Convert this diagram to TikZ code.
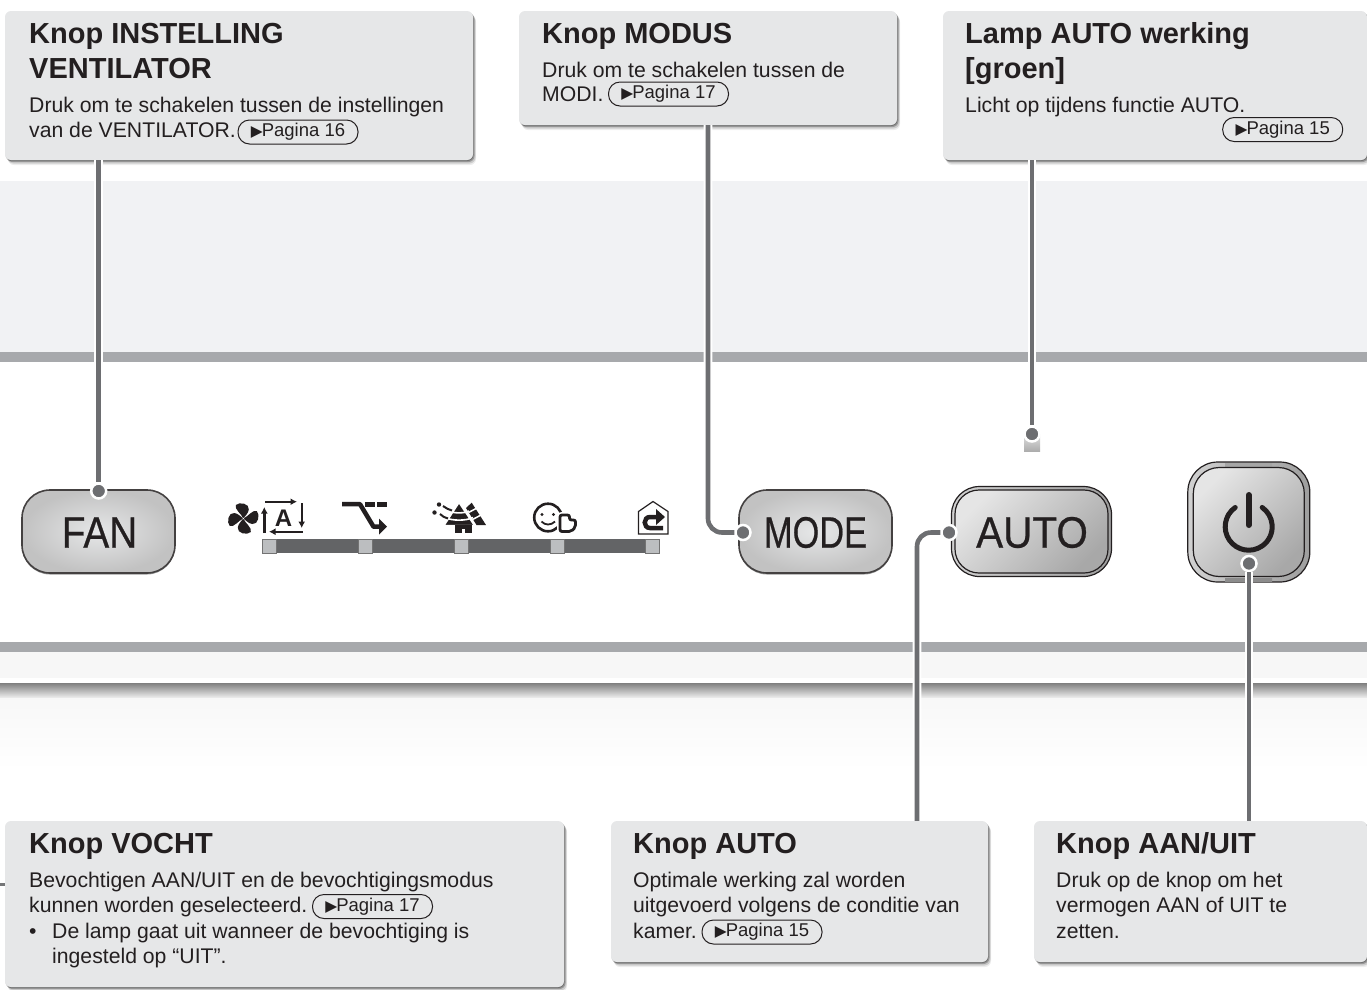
\documentclass[tikz,border=0pt]{standalone}
\usepackage{graphicx}
\usepackage{fontspec}
\setmainfont{Liberation Sans}
\newfontfamily\symf{DejaVu Sans}
\newfontfamily\btnf[FakeBold=0.6]{Liberation Sans}
\usetikzlibrary{shadows,calc,arrows.meta}
\definecolor{boxfill}{HTML}{E6E7E8}
\definecolor{conn}{HTML}{6D6E71}
\definecolor{band}{HTML}{A7A9AC}
\definecolor{ink}{HTML}{231F20}
\definecolor{barc}{HTML}{636466}
\definecolor{sq}{HTML}{BCBEC0}
\definecolor{panel}{HTML}{F1F2F4}
\tikzset{
  x=1pt,y=-1pt,
  softshadow/.style={
    drop shadow={shadow xshift=3pt,shadow yshift=-5pt,opacity=.07,fill=black},
    drop shadow={shadow xshift=2.5pt,shadow yshift=-3.5pt,opacity=.14,fill=black},
    drop shadow={shadow xshift=1.5pt,shadow yshift=-2pt,opacity=.25,fill=black},
    drop shadow={shadow xshift=.5pt,shadow yshift=-1pt,opacity=.25,fill=black}},
  callout/.style={fill=boxfill,rounded corners=6pt,inner sep=0pt,softshadow},
  titletext/.style={anchor=base west,inner sep=0pt,text=ink,font=\fontsize{29}{33}\selectfont\bfseries},
  bodytext/.style={anchor=base west,inner sep=0pt,text=ink,font=\fontsize{21.2}{25}\selectfont},
  pill/.style={draw=ink,line width=1pt,rounded corners=11.5pt,inner sep=0pt,minimum width=120pt,minimum height=24pt,text=ink,font=\fontsize{18.5}{20}\selectfont},
  wire/.style={draw=white,line width=2pt,double=conn,double distance=4.6pt,rounded corners=14pt},
  dotn/.style={circle,fill=conn,draw=white,line width=2.5pt,inner sep=0pt,minimum size=15pt},
  btnlabel/.style={inner sep=0pt,text=ink,font=\fontsize{44}{46}\btnf},
  plainbtn/.style={rounded corners=28pt,draw=ink!85,line width=1.6pt,inner color=boxfill,outer color=black!24,inner sep=0pt,
     drop shadow={shadow xshift=0pt,shadow yshift=-1.5pt,opacity=.4,fill=black}},
  ringouter/.style={rounded corners=30pt,draw=ink,line width=1.2pt,inner sep=0pt,left color=black!18,right color=black!38},
  ringinner/.style={rounded corners=26pt,draw=ink,line width=1.2pt,inner sep=0pt,left color=black!10,right color=black!34,shading angle=45},
  barsq/.style={fill=sq,draw=black!55,line width=.6pt,inner sep=0pt,minimum width=14pt,minimum height=14pt},
  iconl/.style={draw=ink,line width=2.4pt,-{Latex[length=6.5pt,width=7pt]}},
}
\newcommand{\pref}[1]{{\symf\fontsize{15.5}{12}\selectfont ▶}\kern-1pt #1}
\begin{document}
\begin{tikzpicture}
\useasboundingbox (0,0) rectangle (1367,989);
% background bands
\fill[panel] (0,181) rectangle (1367,352);
\fill[band] (0,352) rectangle (1367,362);
\fill[band] (0,642) rectangle (1367,652);
\fill[black!3] (0,652) rectangle (1367,678);
\fill[top color=black!50,bottom color=black!6] (0,683) rectangle (1367,698);
\fill[top color=black!3,bottom color=white] (0,698) rectangle (1367,770);
\fill[band!70!black] (0,883) rectangle (6,886);
% indicator bar
\fill[barc] (262,539) rectangle (660,553);
\node[barsq] (s1) at (269,546) {};
\node[barsq] (s2) at (365,546) {};
\node[barsq] (s3) at (461,546) {};
\node[barsq] (s4) at (557,546) {};
\node[barsq] (s5) at (652.5,546) {};
% icon 1: fan
\begin{scope}[shift={(243.3,518.5)}]
 \foreach \a in {0,90,180,270}{
  \fill[ink,rotate=\a] (0,0) .. controls (-2,-5) and (-9,-9) .. (-7.5,-13.5) .. controls (-4,-17) and (6.5,-15) .. (5.5,-9) .. controls (5,-5) and (2,-3) .. (0,0);
 }
 \fill[white] (0,0) circle[radius=.8pt];
\end{scope}
% icon 1: auto box
\draw[iconl] (265,501.7) -- (297,501.7);
\draw[iconl] (301.7,503) -- (301.7,528);
\draw[iconl] (302.5,531.7) -- (269,531.7);
\draw[iconl] (264.3,533) -- (264.3,507);
\node[inner sep=0pt,text=ink,font=\fontsize{24}{24}\selectfont\bfseries] (iconA) at (283.5,518) {A};
% icon 2: swing
\draw[ink,line width=4.5pt,line join=round] (342,504.2) -- (360,504.2) -- (373.5,526.7) -- (382,526.7);
\fill[ink] (379,518.5) -- (387,526.7) -- (379,534.5) -- cycle;
\fill[ink] (365,501.5) rectangle (375,507);
\fill[ink] (377,501.5) rectangle (387,507);
% icon 3: trees
\fill[ink] (471.7,502.7) -- (486,525) -- (476.5,525) -- (466,508) -- cycle;
\draw[white,line width=1.5pt] (468.5,512.5) -- (477,508);
\draw[white,line width=1.5pt] (472.5,519.5) -- (481,515);
\fill[ink,draw=white,line width=1.5pt,line join=round] (459,502.5) -- (474.5,525.5) -- (444,525.5) -- cycle;
\draw[white,line width=1.6pt] (449,511) .. controls (454,513.5) and (464,513.5) .. (469,511);
\draw[white,line width=1.6pt] (445,517.5) .. controls (452,521) and (466,521) .. (473,517.5);
\fill[ink] (454.5,525) rectangle (471.5,533);
\fill[white] (461.5,528.5) rectangle (465,533);
\fill[ink] (439,504.5) circle[radius=2.2pt];
\fill[ink] (434.5,512.5) circle[radius=2.2pt];
\draw[ink,line width=2pt] (443,506) .. controls (446,508) and (449,510) .. (452,510.5);
\draw[ink,line width=2pt] (440,514) .. controls (442,516) and (445,518) .. (448,518.5);
% icon 4: smile + hand
\draw[ink,line width=2.6pt] (548,517.5) circle[radius=13.8pt];
\fill[ink] (542,514.5) circle[radius=1.7pt] (553.5,514.5) circle[radius=1.7pt];
\draw[ink,line width=1.8pt] (541.5,521.5) .. controls (545,525.5) and (551,525.5) .. (555,521.5);
\draw[white,line width=6pt,fill=white,rounded corners=2pt] (560,531.5) -- (560,515) -- (569.5,515) -- (569.5,520) -- (575.5,520) -- (575.5,527) -- (571,531.5) -- cycle;
\draw[ink,line width=2.8pt,fill=white,rounded corners=2pt] (560,531.5) -- (560,515) -- (569.5,515) -- (569.5,520) -- (575.5,520) -- (575.5,527) -- (571,531.5) -- cycle;
% icon 5: house
\draw[ink,line width=1.2pt,fill=white] (638.5,511.5) -- (653,501.5) -- (668,511.5) -- (668,534) -- (638.5,534) -- cycle;
\draw[ink,line width=4.5pt] (660,517) -- (650,517) .. controls (643,517) and (643,528) .. (650,528) -- (663,528);
\fill[ink] (656,509) -- (665,517) -- (656,525) -- cycle;
% lamp
\fill[top color=black!12,bottom color=black!32] (1024,434) rectangle (1040,451);
% buttons
\node[plainbtn,minimum width=153pt,minimum height=83pt] (fan) at (98.5,531.5) {};
\node[btnlabel] (fant) at (99.5,532.5) {\scalebox{.88}[1]{FAN}};
\node[plainbtn,minimum width=153pt,minimum height=83pt] (mode) at (815.5,531.5) {};
\node[btnlabel] (modet) at (815.5,532.5) {\scalebox{.78}[1]{MODE}};
\node[ringouter,rounded corners=28pt,minimum width=160pt,minimum height=90pt] (autoo) at (1031.5,531.5) {};
\node[ringinner,rounded corners=24pt,minimum width=153pt,minimum height=83pt] (autoi) at (1031.5,531.5) {};
\node[btnlabel] (autot) at (1032,532.5) {\scalebox{.92}[1]{AUTO}};
\node[ringouter,minimum width=122pt,minimum height=120pt] (pwro) at (1248.8,522) {};
\fill[left color=black!35,middle color=white,right color=black!35] (1225,463) rectangle (1272,466);
\fill[left color=black!45,middle color=black!10,right color=black!45] (1225,578) rectangle (1272,581);
\node[ringinner,minimum width=111pt,minimum height=109pt] (pwri) at (1248.8,522) {};
\draw[ink,line width=5pt,line cap=round] (1248.7,526.7) ++(125:23.5pt) arc[start angle=125,end angle=415,radius=23.5pt];
\draw[ink,line width=6pt,line cap=round] (1248.7,495) -- (1248.7,525);
% callouts
\node[callout,minimum width=468pt,minimum height=149pt] (c1) at (239,85.5) {};
\node[callout,minimum width=378pt,minimum height=114pt] (c2) at (708,68) {};
\node[callout,minimum width=424pt,minimum height=149pt] (c3) at (1155,85.5) {};
\node[callout,minimum width=559pt,minimum height=166pt] (c4) at (284.5,904) {};
\node[callout,minimum width=377pt,minimum height=141pt] (c5) at (799.5,891.5) {};
\node[callout,minimum width=333pt,minimum height=141pt] (c6) at (1200.5,891.5) {};
% connectors
\coordinate (k2) at (708,532.5);
\coordinate (k4) at (917,532.5);
\node[dotn] (d1) at (98.7,491) {};
\node[dotn] (d2) at (743,532.5) {};
\node[dotn] (d3) at (1032,434) {};
\node[dotn] (d4) at (949,532.5) {};
\node[dotn] (d5) at (1249,563.5) {};
\draw[wire] (c1.south -| d1) -- (d1.north);
\draw[wire] (c2.south -| k2) -- (k2) -- (d2.west);
\draw[wire] (c3.south -| d3) -- (d3.north);
\draw[wire] (c5.north -| k4) -- (k4) -- (d4.west);
\draw[wire] (c6.north -| d5) -- (d5.south);
% texts 1
\node[titletext] (t1a) at (29,43) {Knop INSTELLING};
\node[titletext] (t1b) at (29,78) {VENTILATOR};
\node[bodytext] (b1a) at (29,112) {Druk om te schakelen tussen de instellingen};
\node[bodytext] (b1b) at (29,137) {van de VENTILATOR.};
\node[pill] (p1) at (298,132) {\pref{Pagina 16}};
% texts 2
\node[titletext] (t2a) at (542,43) {Knop MODUS};
\node[bodytext] (b2a) at (542,77) {Druk om te schakelen tussen de};
\node[bodytext] (b2b) at (542,101) {MODI.};
\node[pill] (p2) at (668.5,94) {\pref{Pagina 17}};
% texts 3
\node[titletext] (t3a) at (965,43) {Lamp AUTO werking};
\node[titletext] (t3b) at (965,78) {[groen]};
\node[bodytext] (b3a) at (965,112) {Licht op tijdens functie AUTO.};
\node[pill] (p3) at (1282.7,129.5) {\pref{Pagina 15}};
% texts 4
\node[titletext] (t4a) at (29,853) {Knop VOCHT};
\node[bodytext] (b4a) at (29,887) {Bevochtigen AAN/UIT en de bevochtigingsmodus};
\node[bodytext] (b4b) at (29,912) {kunnen worden geselecteerd.};
\node[pill] (p4) at (372.5,906.5) {\pref{Pagina 17}};
\node[bodytext] (b4c) at (29,938) {•};
\node[bodytext] (b4d) at (52,938) {De lamp gaat uit wanneer de bevochtiging is};
\node[bodytext] (b4e) at (52,963) {ingesteld op “UIT”.};
% texts 5
\node[titletext] (t5a) at (633,853) {Knop AUTO};
\node[bodytext] (b5a) at (633,887) {Optimale werking zal worden};
\node[bodytext] (b5b) at (633,912) {uitgevoerd volgens de conditie van};
\node[bodytext] (b5c) at (633,938) {kamer.};
\node[pill] (p5) at (762,932) {\pref{Pagina 15}};
% texts 6
\node[titletext] (t6a) at (1056,853) {Knop AAN/UIT};
\node[bodytext] (b6a) at (1056,887) {Druk op de knop om het};
\node[bodytext] (b6b) at (1056,912) {vermogen AAN of UIT te};
\node[bodytext] (b6c) at (1056,938) {zetten.};
\end{tikzpicture}
\end{document}
